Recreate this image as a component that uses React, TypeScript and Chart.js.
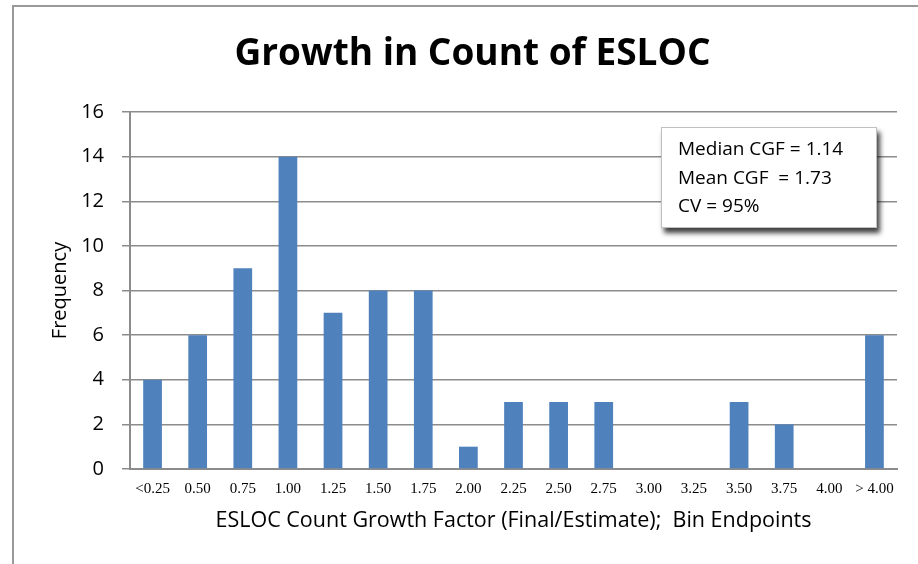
import React, { useEffect, useRef } from 'react';
import { Chart, registerables } from 'chart.js';

Chart.register(...registerables);

const categories = ['<0.25', '0.50', '0.75', '1.00', '1.25', '1.50', '1.75', '2.00', '2.25', '2.50', '2.75', '3.00', '3.25', '3.50', '3.75', '4.00', '> 4.00'];
const frequencies = [4, 6, 9, 14, 7, 8, 8, 1, 3, 3, 3, 0, 0, 3, 2, 0, 6];
const yMin = 0;
const yMax = 16;
const yStep = 2;
const chartTitle = 'Growth in Count of ESLOC';
const xAxisTitle = 'ESLOC Count Growth Factor (Final/Estimate);  Bin Endpoints';
const yAxisTitle = 'Frequency';
const statsLines = ['Median CGF = 1.14', 'Mean CGF  = 1.73', 'CV = 95%'];

const SANS = 'Open Sans';
const SERIF = 'Liberation Serif';
const GRID = '#8c8c8c';

const framePlugin = {
  id: 'frame',
  beforeDraw(chart: any) {
    const ctx = chart.ctx as CanvasRenderingContext2D;
    ctx.save();
    ctx.fillStyle = '#ffffff';
    ctx.fillRect(0, 0, chart.width, chart.height);
    ctx.strokeStyle = '#9a9a9a';
    ctx.lineWidth = 2;
    ctx.beginPath();
    ctx.moveTo(13, chart.height);
    ctx.lineTo(13, 6);
    ctx.lineTo(chart.width, 6);
    ctx.stroke();
    ctx.restore();
  },
};

const statsPlugin = {
  id: 'statsBox',
  afterDraw(chart: any) {
    const ctx = chart.ctx as CanvasRenderingContext2D;
    const area = chart.chartArea;
    const w = 216;
    const h = 101;
    const x = area.right - 236;
    const y = area.top + 15;
    ctx.save();
    ctx.shadowColor = 'rgba(0,0,0,0.75)';
    ctx.shadowBlur = 5;
    ctx.shadowOffsetX = 3;
    ctx.shadowOffsetY = 5;
    ctx.fillStyle = '#ffffff';
    ctx.fillRect(x, y, w, h);
    ctx.restore();
    ctx.save();
    ctx.strokeStyle = '#c0c0c0';
    ctx.lineWidth = 1;
    ctx.strokeRect(x + 0.5, y + 0.5, w - 1, h - 1);
    ctx.fillStyle = '#000000';
    ctx.font = `19px "${SANS}"`;
    ctx.textBaseline = 'alphabetic';
    ctx.textAlign = 'left';
    statsLines.forEach((line, i) => {
      ctx.fillText(line, x + 17, y + 28 + i * 28.6);
    });
    ctx.restore();
  },
};

export default function App() {
  const ref = useRef<HTMLCanvasElement | null>(null);

  useEffect(() => {
    if (!ref.current) return;
    const chart = new Chart(ref.current, {
      type: 'bar',
      data: {
        labels: categories,
        datasets: [
          {
            label: yAxisTitle,
            data: frequencies,
            backgroundColor: '#4F81BD',
            borderWidth: 0,
            barPercentage: 0.415,
            categoryPercentage: 1.0,
          },
        ],
      },
      options: {
        animation: false,
        responsive: false,
        devicePixelRatio: 1,
        layout: { padding: { left: 48, right: 21, top: 0, bottom: 30 } },
        plugins: {
          legend: { display: false },
          tooltip: { enabled: false },
          title: {
            display: true,
            text: chartTitle,
            color: '#000000',
            font: { family: SANS, size: 37, weight: 'bold' },
            padding: { top: 32, bottom: 35.6 },
          },
        },
        scales: {
          x: {
            grid: { display: false, drawTicks: false },
            border: { display: true, color: GRID, width: 2 },
            ticks: {
              color: '#000000',
              font: { family: SERIF, size: 15 },
              padding: 11,
              maxRotation: 0,
              autoSkip: false,
            },
            title: {
              display: true,
              text: xAxisTitle,
              color: '#000000',
              font: { family: SANS, size: 21.5 },
              padding: 0,
            },
            afterFit: (s: any) => {
              s.height = 65;
            },
          },
          y: {
            min: yMin,
            max: yMax,
            ticks: {
              stepSize: yStep,
              color: '#000000',
              font: { family: SANS, size: 20 },
              padding: 18,
            },
            grid: { color: GRID, lineWidth: 1.5, tickLength: 8, drawTicks: true },
            border: { display: true, color: GRID, width: 2 },
            title: {
              display: true,
              text: yAxisTitle,
              color: '#000000',
              font: { family: SANS, size: 20 },
              padding: 0,
            },
            afterFit: (s: any) => {
              s.width = 82;
            },
          },
        },
      },
      plugins: [framePlugin, statsPlugin],
    });
    return () => chart.destroy();
  }, []);

  return (
    <div style={{ position: 'absolute', left: 0, top: 0, width: 918, height: 564 }}>
      <canvas ref={ref} width={918} height={564} style={{ display: 'block' }} />
    </div>
  );
}
